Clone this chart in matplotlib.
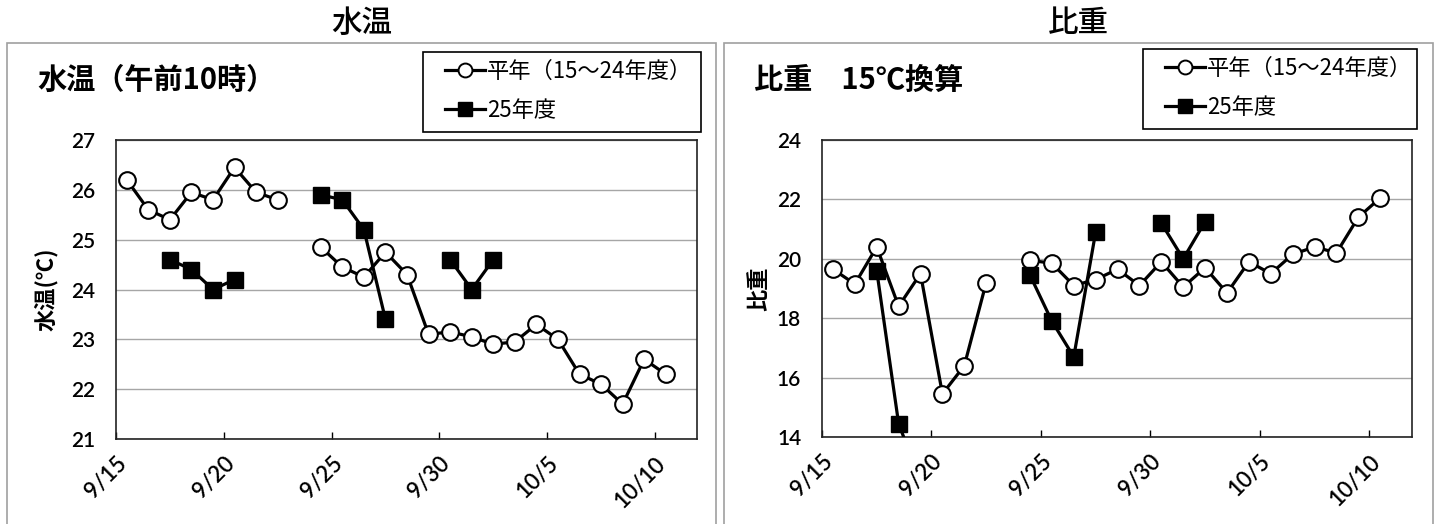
import matplotlib
matplotlib.use("Agg")
import matplotlib.pyplot as plt
import numpy as np
from matplotlib.lines import Line2D
from matplotlib.patches import Rectangle
from matplotlib.transforms import ScaledTranslation

plt.rcParams["font.family"] = ["Noto Sans CJK JP", "DejaVu Sans"]

nan = np.nan

# 9/15 .. 10/10, one value per day
dates = ["9/15", "9/16", "9/17", "9/18", "9/19", "9/20", "9/21", "9/22", "9/23",
         "9/24", "9/25", "9/26", "9/27", "9/28", "9/29", "9/30", "10/1", "10/2",
         "10/3", "10/4", "10/5", "10/6", "10/7", "10/8", "10/9", "10/10"]
tick_labels = ["9/15", "9/20", "9/25", "9/30", "10/5", "10/10"]

temp_avg = [26.2, 25.6, 25.4, 25.95, 25.8, 26.45, 25.95, 25.8, nan,
            24.85, 24.45, 24.25, 24.75, 24.3, 23.1, 23.15, 23.05, 22.9,
            22.95, 23.3, 23.0, 22.3, 22.1, 21.7, 22.6, 22.3]
temp_25 = [nan, nan, 24.6, 24.4, 24.0, 24.2, nan, nan, nan,
           25.9, 25.8, 25.2, 23.4, nan, nan, 24.6, 24.0, 24.6,
           nan, nan, nan, nan, nan, nan, nan, nan]

sg_avg = [19.65, 19.15, 20.4, 18.4, 19.5, 15.45, 16.4, 19.2, nan,
          19.95, 19.85, 19.1, 19.3, 19.65, 19.1, 19.9, 19.05, 19.7,
          18.85, 19.9, 19.5, 20.15, 20.4, 20.2, 21.4, 22.05]
sg_25 = [nan, nan, 19.6, 14.45, 12.5, nan, nan, nan, nan,
         19.45, 17.9, 16.7, 20.9, nan, nan, 21.2, 20.0, 21.25,
         nan, nan, nan, nan, nan, nan, nan, nan]

label_avg = "平年（15～24年度）"
label_25 = "25年度"

W, H = 1440, 524
fig = plt.figure(figsize=(W / 100, H / 100), dpi=100)


def px_rect(x0, y0, x1, y1):
    # pixel box (top-left origin) -> figure fraction [left, bottom, width, height]
    return [x0 / W, 1 - y1 / H, (x1 - x0) / W, (y1 - y0) / H]


def panel(box, ax_box, leg_box, head, sub, ylabel, ylabel_px, avg, cur, ylim, yticks):
    l, b, w, h = px_rect(*box)
    fig.add_artist(Rectangle((l, b - 0.05), w, h + 0.05, transform=fig.transFigure,
                             fill=False, edgecolor="#a0a0a0", linewidth=1.2))
    fig.text(l + w / 2, 1 - 23 / H, head, ha="center", va="center", fontsize=22,
             fontweight="medium")
    fig.text(l + 30 / W, 1 - 80 / H, sub, ha="left", va="center",
             fontsize=21, fontweight="bold")

    ax = fig.add_axes(px_rect(*ax_box))
    x = np.arange(len(dates)) + 0.5
    ax.plot(x, avg, color="black", linewidth=2.3, marker="o", markersize=12,
            markerfacecolor="white", markeredgecolor="black", markeredgewidth=1.5,
            zorder=3)
    ax.plot(x, cur, color="black", linewidth=2.3, marker="s", markersize=12,
            markerfacecolor="black", markeredgecolor="black", zorder=4)

    ax.set_xlim(0, 26.95)
    ax.set_ylim(*ylim)
    ax.set_yticks(yticks)
    ax.set_xticks([dates.index(t) for t in tick_labels])
    ax.set_xticklabels(tick_labels, rotation=45, ha="right", va="top",
                       rotation_mode="anchor", family="Lato", fontsize=16,
                       fontweight="semibold")
    shift = ScaledTranslation(15 / 100, 0, fig.dpi_scale_trans)
    for t in ax.get_xticklabels():
        t.set_transform(t.get_transform() + shift)
    for t in ax.get_yticklabels():
        t.set_family("Lato")
        t.set_fontsize(15)
        t.set_fontweight("semibold")
    ax.tick_params(axis="x", direction="in", length=5, width=1, pad=10)
    ax.tick_params(axis="y", length=0, pad=15)
    ax.grid(axis="y", color="#a6a6a6", linewidth=1)
    ax.set_axisbelow(True)
    for s in ax.spines.values():
        s.set_color("#222222")
        s.set_linewidth(1.2)
    ax.set_ylabel(ylabel, fontsize=16, fontweight="bold")
    ax.yaxis.set_label_coords(-ylabel_px / (ax_box[2] - ax_box[0]), 0.5)

    handles = [
        Line2D([], [], color="black", linewidth=2.3, marker="o", markersize=10,
               markerfacecolor="white", markeredgecolor="black", markeredgewidth=1.4),
        Line2D([], [], color="black", linewidth=2.3, marker="s", markersize=10,
               markerfacecolor="black"),
    ]
    ll, lb, lw, lh = px_rect(*leg_box)
    fig.add_artist(Rectangle((ll, lb), lw, lh, transform=fig.transFigure,
                             fill=False, edgecolor="black", linewidth=1.2))
    ax.legend(handles, [label_avg, label_25], loc="center left",
              bbox_to_anchor=(ll + 11 / W, lb + lh / 2 + 1 / H),
              bbox_transform=fig.transFigure,
              frameon=False, fontsize=16, handlelength=1.8, handletextpad=0.1,
              labelspacing=0.7, borderpad=0)
    return ax


panel((7, 43, 716, 540), (116, 140, 697, 439), (423, 52, 701, 132),
      "水温", "水温（午前10時）", "水温(℃)", 58, temp_avg, temp_25,
      (21, 27), [21, 22, 23, 24, 25, 26, 27])
panel((724, 43, 1433, 540), (822, 140, 1412, 437), (1143, 49, 1417, 129),
      "比重", "比重　15℃換算", "比重", 52, sg_avg, sg_25,
      (14, 24), [14, 16, 18, 20, 22, 24])

fig.savefig("out.png", dpi=100)
